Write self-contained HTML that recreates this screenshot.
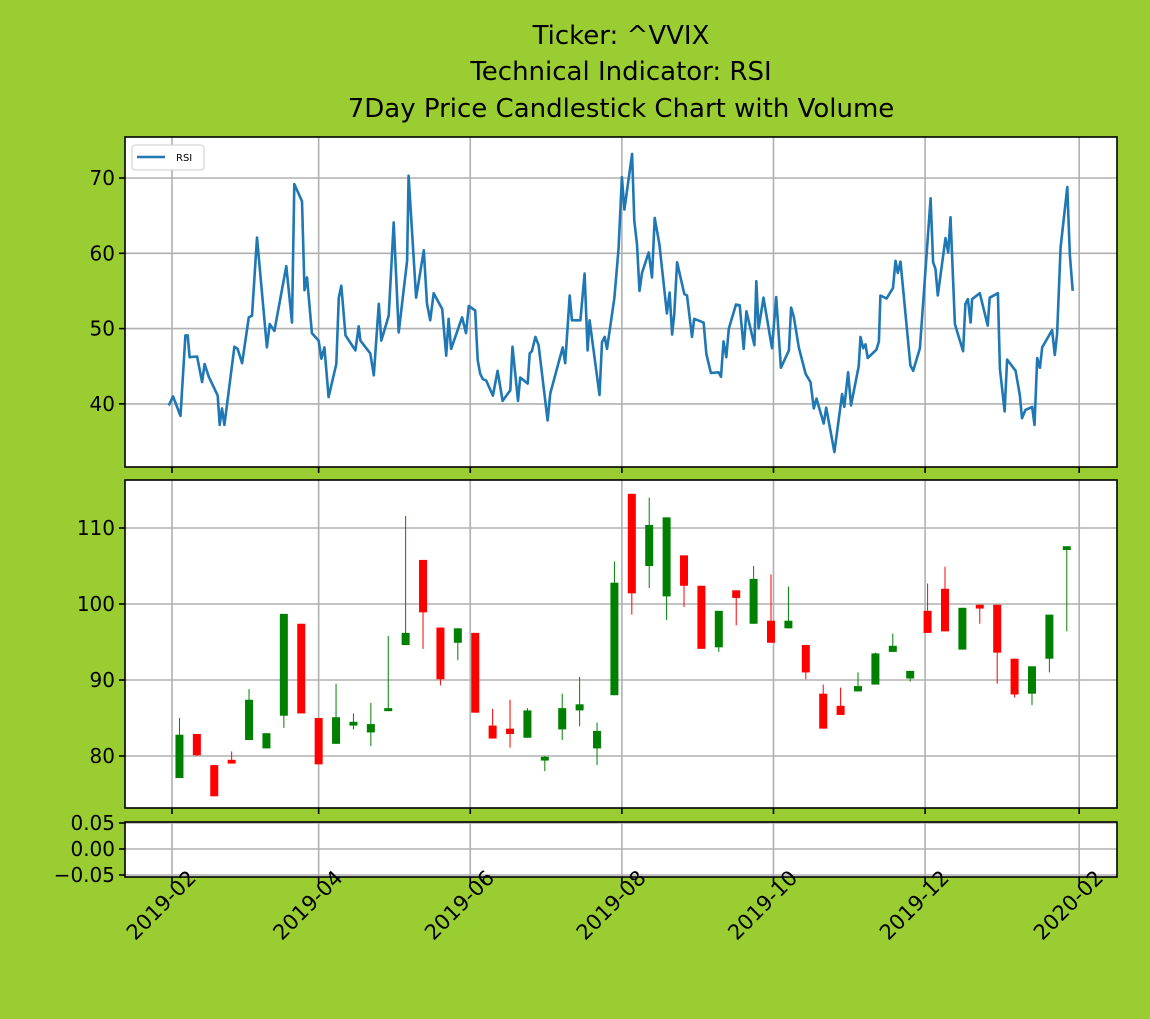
<!DOCTYPE html>
<html><head><meta charset="utf-8"><style>
html,body{margin:0;padding:0;background:#9acd32;}
svg{display:block;font-family:"DejaVu Sans","Liberation Sans",sans-serif;}
</style></head><body>
<svg id="chart" width="1150" height="1019" viewBox="0 0 1150 1019">
<rect x="0" y="0" width="1150" height="1019" fill="#9acd32"/>
<g font-size="26" text-anchor="middle" fill="#000">
<text x="621" y="44">Ticker: ^VVIX</text>
<text x="621" y="80">Technical Indicator: RSI</text>
<text x="621" y="117">7Day Price Candlestick Chart with Volume</text>
</g>
<rect x="125" y="137" width="992" height="330" fill="#fff"/>
<rect x="125" y="480" width="992" height="328" fill="#fff"/>
<rect x="125" y="822" width="992" height="55" fill="#fff"/>
<defs>
<clipPath id="c1"><rect x="125" y="137" width="992" height="330"/></clipPath>
</defs>
<g id="grid"></g>
<g id="marks"></g>
<g id="frames" fill="none" stroke="#000" stroke-width="1.6">
<rect x="125" y="137" width="992" height="330"/>
<rect x="125" y="480" width="992" height="328"/>
<rect x="125" y="822" width="992" height="55"/>
</g>
<g id="ticks"></g>
<g>
<rect x="132" y="145" width="72" height="25" rx="3" fill="#fff" stroke="#ccc" stroke-width="1"/>
<line x1="137" y1="157" x2="165" y2="157" stroke="#1f77b4" stroke-width="2.5"/>
<text x="176" y="161" font-size="10" fill="#000">RSI</text>
</g>
</svg>
<script>
const xTickLabels=["2019-02","2019-04","2019-06","2019-08","2019-10","2019-12","2020-02"];
const xTickDays=[0,59,120,181,242,303,365];
const rsiTicks=[40,50,60,70];
const candleTicks=[80,90,100,110];
const volTickLabels=["0.05","0.00","\u22120.05"];
const volTicks=[0.05,0,-0.05];
const rsiDay=[-1.3,0.4,3.4,5.4,6.3,7.1,10.1,12.1,13.1,14.8,18.4,19.2,20.1,21.1,25.1,26.4,28.2,30.9,32.2,34.2,38.2,39.3,41.2,46.0,48.3,49.2,52.3,53.3,54.3,56.3,59.0,60.1,61.3,63.0,66.1,67.1,68.1,69.8,73.8,75.1,75.8,79.8,81.2,83.2,84.2,87.2,89.2,91.2,94.6,95.2,98.2,101.3,102.6,103.9,105.3,108.7,110.3,111.3,112.3,116.7,118.3,119.4,122.0,123.0,124.0,125.1,126.4,129.1,131.0,133.0,136.1,137.0,139.2,140.1,143.1,143.9,144.8,146.2,147.5,151.1,152.2,157.2,158.2,160.0,160.9,164.3,166.0,167.2,168.0,172.0,173.0,174.1,175.0,178.0,179.7,181.0,182.0,185.1,186.0,187.1,188.1,189.1,191.8,193.1,194.2,196.1,199.1,200.2,201.2,202.1,203.2,206.1,207.2,209.2,210.1,213.9,215.0,216.8,219.9,220.9,221.9,223.0,224.0,226.9,228.4,230.0,231.1,234.3,235.1,236.0,238.0,241.4,243.1,245.0,248.2,249.1,250.2,252.2,254.9,256.9,258.2,259.3,262.2,263.2,266.5,269.6,270.5,272.0,273.2,276.3,277.0,278.1,279.0,279.9,283.4,284.4,285.0,287.5,290.1,291.1,292.0,293.1,297.1,298.2,300.9,305.2,306.2,307.2,308.1,311.2,312.3,313.2,315.0,318.3,319.2,320.2,321.3,321.9,325.0,328.2,329.0,332.3,333.1,335.0,336.0,339.4,341.1,342.0,343.4,346.1,347.0,348.1,349.2,350.1,354.1,355.2,356.1,357.5,360.2,361.2,362.4];
const rsiVal=[39.8,41.0,38.4,49.1,49.1,46.2,46.3,42.9,45.3,43.6,41.1,37.2,39.4,37.2,47.6,47.3,45.4,51.5,51.7,62.1,47.5,50.6,49.7,58.3,50.8,69.2,66.9,55.1,56.8,49.4,48.4,46.0,47.5,40.9,45.3,54.1,55.7,49.1,47.1,50.3,48.4,46.7,43.8,53.3,48.4,51.7,64.1,49.5,59.0,70.3,54.1,60.4,53.3,51.1,54.7,52.6,46.4,51.3,47.3,51.5,49.4,53.0,52.4,45.8,44.0,43.3,43.1,41.1,44.4,40.4,41.8,47.6,40.4,43.5,42.7,46.7,47.0,48.9,47.8,37.8,41.4,47.5,45.4,54.4,51.1,51.1,57.3,47.1,51.1,41.2,48.2,48.9,47.3,54.1,60.7,70.1,65.8,73.2,64.3,61.2,55.0,57.4,60.1,56.8,64.7,61.2,52.0,54.8,49.2,52.0,58.8,54.6,54.4,48.9,51.3,50.8,46.6,44.1,44.2,43.6,48.3,46.2,50.0,53.2,53.1,47.3,52.3,47.8,56.3,50.0,54.1,47.4,54.2,44.8,47.1,52.8,51.5,47.5,44.0,42.9,39.4,40.7,37.4,39.5,33.6,41.3,39.6,44.2,39.8,45.0,48.9,47.4,47.9,46.1,47.2,48.3,54.4,54.0,55.4,59.0,57.4,58.9,45.1,44.4,47.4,67.3,58.8,57.9,54.4,62.0,60.1,64.8,50.6,47.0,53.3,53.9,50.8,53.9,54.7,50.4,54.1,54.7,44.7,39.0,45.9,44.4,41.2,38.1,39.2,39.6,37.2,46.1,44.8,47.5,49.8,46.5,49.3,60.8,68.8,59.9,55.0];
const candleDates=["2019-02-04","2019-02-11","2019-02-18","2019-02-25","2019-03-04","2019-03-11","2019-03-18","2019-03-25","2019-04-01","2019-04-08","2019-04-15","2019-04-22","2019-04-29","2019-05-06","2019-05-13","2019-05-20","2019-05-27","2019-06-03","2019-06-10","2019-06-17","2019-06-24","2019-07-01","2019-07-08","2019-07-15","2019-07-22","2019-07-29","2019-08-05","2019-08-12","2019-08-19","2019-08-26","2019-09-02","2019-09-09","2019-09-16","2019-09-23","2019-09-30","2019-10-07","2019-10-14","2019-10-21","2019-10-28","2019-11-04","2019-11-11","2019-11-18","2019-11-25","2019-12-02","2019-12-09","2019-12-16","2019-12-23","2019-12-30","2020-01-06","2020-01-13","2020-01-20","2020-01-27"];
const openV=[77.1,82.9,78.8,79.5,82.1,81.0,85.3,97.4,85.0,81.6,84.0,83.1,85.9,94.6,105.8,96.9,94.9,96.2,84.0,83.6,82.4,79.4,83.5,86.0,81.0,88.0,114.5,105.0,101.0,106.4,102.4,94.3,101.8,97.4,97.8,96.8,94.6,88.2,86.6,88.5,89.4,93.7,90.2,99.1,102.0,94.0,99.9,99.9,92.8,88.2,92.8,107.1];
const highV=[85.0,82.9,78.8,80.6,88.8,83.0,98.7,97.4,85.0,89.5,85.6,87.0,95.8,111.6,105.8,96.9,96.8,96.2,86.2,87.4,86.3,80.0,88.2,90.4,84.4,105.6,114.5,114.0,111.4,106.4,102.4,99.1,101.8,105.0,103.9,102.3,94.6,89.4,89.0,91.0,93.6,96.1,91.2,102.7,104.9,99.5,99.9,99.9,92.8,91.8,98.6,107.6];
const lowV=[77.1,80.0,74.7,79.0,82.1,81.0,83.7,85.6,78.9,81.6,83.5,81.3,85.9,94.6,94.1,89.3,92.6,85.7,82.3,81.1,82.4,78.0,82.1,83.9,78.8,88.0,98.6,102.1,97.9,99.6,94.1,93.7,97.2,97.4,94.9,96.8,90.1,83.6,85.4,88.5,89.4,93.7,89.8,96.2,96.4,94.0,97.4,89.5,87.7,86.7,91.0,96.4];
const closeV=[82.8,80.1,74.7,79.0,87.4,83.0,98.7,85.6,78.9,85.1,84.5,84.2,86.3,96.2,98.9,90.1,96.8,85.7,82.3,82.9,86.0,79.9,86.3,86.8,83.3,102.8,101.4,110.4,111.4,102.4,94.1,99.1,100.8,103.3,94.9,97.8,91.0,83.6,85.4,89.2,93.5,94.5,91.2,96.2,96.4,99.5,99.4,93.6,88.1,91.8,98.6,107.6];

const NS="http://www.w3.org/2000/svg";
const gGrid=document.getElementById('grid'),gMarks=document.getElementById('marks'),gTicks=document.getElementById('ticks');
const base=Date.UTC(2019,1,1);
function xDay(d){return 172+d*2.4855;}
function xDate(s){const p=s.split('-');return xDay((Date.UTC(+p[0],+p[1]-1,+p[2])-base)/86400000);}
function yRsi(v){return 178+(70-v)*7.53;}
function yC(v){return 528+(110-v)*7.6;}
function yVol(v){return 849-v*520;}
function mk(tag,attrs,parent){const e=document.createElementNS(NS,tag);for(const k in attrs)e.setAttribute(k,attrs[k]);parent.appendChild(e);return e;}
const panels=[[137,467],[480,808],[822,877]];
xTickDays.forEach((d,i)=>{
  const x=xDay(d);
  panels.forEach(p=>{
    const l=mk('line',{x1:x,x2:x,y1:p[0],y2:p[1],stroke:'#b0b0b0','stroke-width':1.6},gGrid);
    
    
    const t=mk('line',{x1:x,x2:x,y1:p[1],y2:p[1]+6,stroke:'#000','stroke-width':1.6},gTicks);
    
    
  });
  const cx=x-10,cy=906;
  const tx=mk('text',{x:cx,y:cy,'font-size':21,'text-anchor':'middle','dominant-baseline':'middle',transform:'rotate(-45 '+cx+' '+cy+')'},gTicks);
  tx.textContent=xTickLabels[i];
  
  
});
function yAxis(ticks,labels,fy){
  ticks.forEach((v,i)=>{
    const y=fy(v);
    const l=mk('line',{x1:125,x2:1117,y1:y,y2:y,stroke:'#b0b0b0','stroke-width':1.6},gGrid);
    
    
    const t=mk('line',{x1:119,x2:125,y1:y,y2:y,stroke:'#000','stroke-width':1.6},gTicks);
    
    
    const tx=mk('text',{x:115,y:y+7,'font-size':20,'text-anchor':'end'},gTicks);
    tx.textContent=labels[i];
    
    
  });
}
yAxis(rsiTicks,rsiTicks.map(String),yRsi);
yAxis(candleTicks,candleTicks.map(String),yC);
yAxis(volTicks,volTickLabels,yVol);
let d='';
rsiDay.forEach((dd,i)=>{d+=(i?'L':'M')+xDay(dd).toFixed(1)+' '+yRsi(rsiVal[i]).toFixed(1);});
const line=mk('path',{d:d,fill:'none',stroke:'#1f77b4','stroke-width':2.6,'stroke-linejoin':'round','clip-path':'url(#c1)'},gMarks);


candleDates.forEach((s,i)=>{
  const x=xDate(s);
  const up=closeV[i]>=openV[i];
  const col=up?'#008000':'#ff0000';
  const w=mk('line',{x1:x,x2:x,y1:yC(highV[i]),y2:yC(lowV[i]),stroke:col,'stroke-width':1},gMarks);
  
  
  const top=yC(Math.max(openV[i],closeV[i])),bot=yC(Math.min(openV[i],closeV[i]));
  const r=mk('rect',{x:x-4,y:top,width:8,height:Math.max(bot-top,1),fill:col},gMarks);
  
  
});
</script>
</body></html>
